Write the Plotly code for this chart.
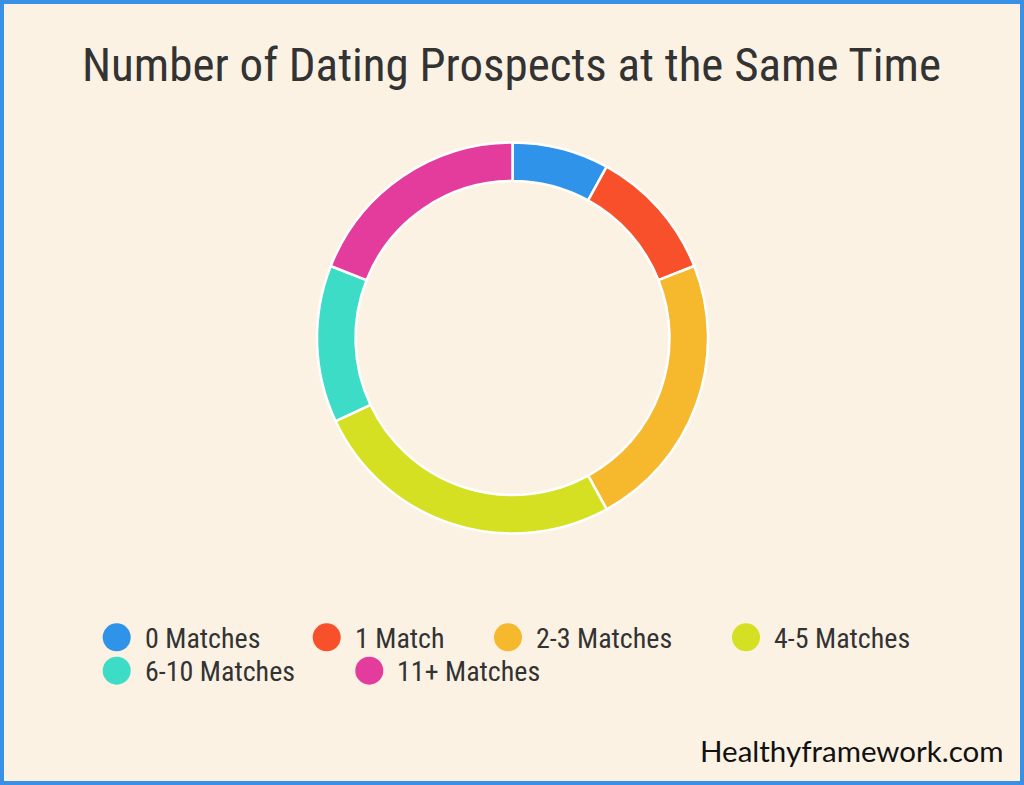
import plotly.graph_objects as go

# ---- data ----
categories = ["0 Matches", "1 Match", "2-3 Matches", "4-5 Matches", "6-10 Matches", "11+ Matches"]
shares = [8, 11, 23, 26, 13, 19]
colors = ["#2f93ea", "#f8502b", "#f6b82d", "#d6e022", "#3ddcc6", "#e33c9d"]

title_text = "Number of Dating Prospects at the Same Time"
watermark = "Healthyframework.com"

# ---- layout constants (pixels) ----
W, H = 1024, 785
BG = "#fbf2e4"
BORDER = "#3a90e4"
TEXT = "#333333"

# pie placement
cx, cy, R = 512.5, 338, 195.5
hole = 0.803

# legend placement (circle centers in px from top-left), one per category
legend_pos = [(116.7, 637.3), (326.7, 637.3), (508.0, 637.3), (746.0, 637.3),
              (116.7, 670.7), (369.3, 670.7)]
legend_r = 14

def px(x):
    return x / W

def py(y):
    return 1 - y / H

fig = go.Figure()
fig.add_trace(go.Pie(
    labels=categories,
    values=shares,
    hole=hole,
    sort=False,
    direction="clockwise",
    rotation=0,
    textinfo="none",
    hoverinfo="label+percent",
    marker=dict(colors=colors, line=dict(color="#ffffff", width=2.5)),
    domain=dict(x=[px(cx - R), px(cx + R)], y=[py(cy + R), py(cy - R)]),
    showlegend=False,
))

shapes = []
annotations = []
# outer border
shapes.append(dict(type="rect", xref="paper", yref="paper",
                   x0=px(2), x1=px(W - 2), y0=py(H - 2), y1=py(2),
                   line=dict(color=BORDER, width=4), fillcolor="rgba(0,0,0,0)", layer="above"))

# legend
for (lx, ly), lab, col in zip(legend_pos, categories, colors):
    shapes.append(dict(type="circle", xref="paper", yref="paper",
                       x0=px(lx - legend_r), x1=px(lx + legend_r),
                       y0=py(ly + legend_r), y1=py(ly - legend_r),
                       fillcolor=col, line=dict(width=0)))
    annotations.append(dict(text=lab, xref="paper", yref="paper",
                            x=px(lx + 26), y=py(ly + 1), xanchor="left", yanchor="middle",
                            showarrow=False,
                            font=dict(family="Roboto Condensed, Liberation Sans Narrow, Roboto, sans-serif",
                                      size=28, color=TEXT)))

# title
annotations.append(dict(text=title_text, xref="paper", yref="paper",
                        x=px(511), y=py(65), xanchor="center", yanchor="middle",
                        showarrow=False,
                        font=dict(family="Roboto Condensed, Liberation Sans Narrow, Roboto, sans-serif",
                                  size=47, color=TEXT)))
# watermark
annotations.append(dict(text=watermark, xref="paper", yref="paper",
                        x=px(1006), y=py(750), xanchor="right", yanchor="middle",
                        showarrow=False,
                        font=dict(family="Lato, Open Sans, sans-serif", size=29.5, color="#111111")))

fig.update_layout(
    width=W, height=H,
    margin=dict(l=0, r=0, t=0, b=0),
    paper_bgcolor=BG, plot_bgcolor=BG,
    shapes=shapes, annotations=annotations,
    showlegend=False,
)

fig.write_html("out.html")
